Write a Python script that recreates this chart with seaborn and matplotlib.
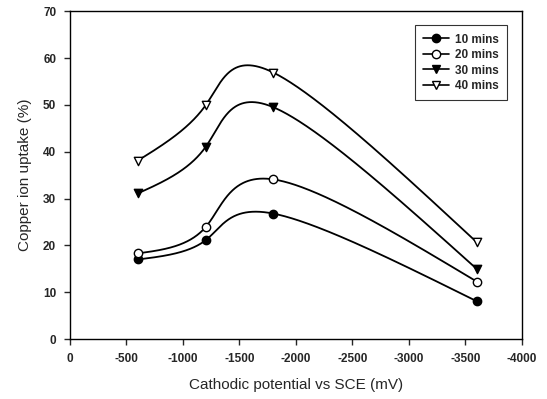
import numpy as np
import pandas as pd
import matplotlib
matplotlib.use("Agg")
import matplotlib.pyplot as plt
import seaborn as sns
from matplotlib.lines import Line2D

potential = [-600, -1200, -1800, -3600]
series_names = ["10 mins", "20 mins", "30 mins", "40 mins"]
uptake_10 = [17.0, 21.1, 26.8, 8.1]
uptake_20 = [18.3, 23.9, 34.1, 12.3]
uptake_30 = [31.1, 41.0, 49.5, 15.0]
uptake_40 = [38.1, 49.9, 56.9, 20.7]
xticks = [0, -500, -1000, -1500, -2000, -2500, -3000, -3500, -4000]
yticks = [0, 10, 20, 30, 40, 50, 60, 70]


def natural_coeffs(v):
    # natural cubic spline over a uniform parameter t = 0..n-1
    v = np.asarray(v, float); k = len(v)
    A = np.zeros((k, k)); b = np.zeros(k)
    A[0, 0] = A[-1, -1] = 1
    for i in range(1, k - 1):
        A[i, i - 1] = 1; A[i, i] = 4; A[i, i + 1] = 1
        b[i] = 6 * (v[i + 1] - 2 * v[i] + v[i - 1])
    return np.linalg.solve(A, b)


def eval_spline(v, M, t):
    v = np.asarray(v, float); k = len(v)
    out = np.empty_like(t)
    for j, tv in enumerate(t):
        i = min(int(np.floor(tv)), k - 2)
        s = tv - i
        out[j] = ((1 - s) * v[i] + s * v[i + 1]
                  + ((1 - s) ** 3 - (1 - s)) * M[i] / 6
                  + (s ** 3 - s) * M[i + 1] / 6)
    return out


def parametric_spline(x, y, n=400):
    t = np.linspace(0, len(x) - 1, n)
    return eval_spline(x, natural_coeffs(x), t), eval_spline(y, natural_coeffs(y), t)


sns.set_style("ticks")
plt.rcParams["font.family"] = ["Liberation Sans", "DejaVu Sans"]

fig = plt.figure(figsize=(5.47, 3.99), dpi=100)
ax = fig.add_axes([0.128, 0.150, 0.826, 0.822])

all_vals = [uptake_10, uptake_20, uptake_30, uptake_40]
markers = ["o", "o", "v", "v"]
faces = ["black", "white", "black", "white"]
handles = []
for name, vals, m, fc in zip(series_names, all_vals, markers, faces):
    xs, ys = parametric_spline(potential, vals)
    curve = pd.DataFrame({"x": xs, "y": ys})
    sns.lineplot(data=curve, x="x", y="y", ax=ax, color="black", lw=1.3,
                 estimator=None, sort=False)
    pts = pd.DataFrame({"x": potential, "y": vals})
    sns.scatterplot(data=pts, x="x", y="y", ax=ax, marker=m, s=36,
                    color=fc, edgecolor="black", linewidth=1.0, zorder=5)
    handles.append(Line2D([], [], color="black", lw=1.2, marker=m, markersize=6,
                          markerfacecolor=fc, markeredgecolor="black", label=name))

ax.set_xlim(0, -4000)
ax.set_ylim(0, 70)
ax.set_xticks(xticks)
ax.set_xticklabels([str(t) for t in xticks], fontweight="bold", fontsize=8.5)
ax.set_yticks(yticks)
ax.set_yticklabels([str(t) for t in yticks], fontweight="bold", fontsize=8.5)
ax.tick_params(direction="out", length=4, width=1, pad=6)
for s in ax.spines.values():
    s.set_visible(True)
    s.set_linewidth(1.0)
    s.set_color("black")
ax.set_xlabel("Cathodic potential vs SCE (mV)", fontsize=11, labelpad=9)
ax.set_ylabel("Copper ion uptake (%)", fontsize=11, labelpad=8)

leg = ax.legend(handles=handles, loc="upper right", bbox_to_anchor=(0.98, 0.975),
                frameon=True, fancybox=False, fontsize=8.5, handlelength=2.2,
                borderpad=0.7, labelspacing=0.3, handletextpad=0.5)
leg.get_frame().set_edgecolor("black")
leg.get_frame().set_linewidth(0.8)
for t in leg.get_texts():
    t.set_fontweight("bold")

fig.savefig("out.png", dpi=100)
